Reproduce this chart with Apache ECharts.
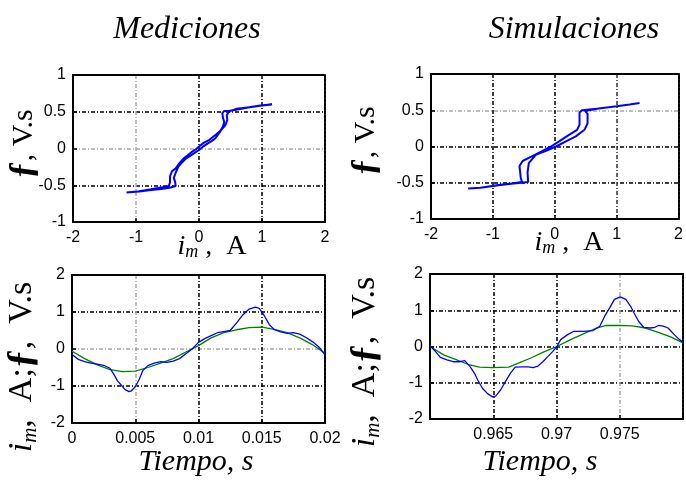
<!DOCTYPE html>
<html>
<head>
<meta charset="utf-8">
<script src="https://cdn.jsdelivr.net/npm/echarts@6/dist/echarts.min.js"></script>
<style>
  html, body { margin: 0; padding: 0; background: #fff; }
  #chart { width: 686px; height: 481px; }
</style>
</head>
<body>
<div id="chart"></div>
<script>
// Hysteresis loop, measured: magnetizing current (A) vs flux (V.s)
const medLoopI = [1.16, 1.0, 0.82, 0.61, 0.47, 0.40, 0.37, 0.38, 0.40, 0.38, 0.34, 0.27, 0.21, 0.15, 0.08, 0.02, -0.05, -0.12, -0.19, -0.25, -0.31, -0.37, -0.43, -0.46, -0.46, -0.48, -0.60, -0.76, -0.95, -1.15,
  -0.95, -0.76, -0.60, -0.45, -0.37, -0.38, -0.40, -0.37, -0.33, -0.27, -0.21, -0.14, -0.07, 0.0, 0.07, 0.14, 0.20, 0.26, 0.31, 0.36, 0.42, 0.45, 0.44, 0.47, 0.60, 0.80, 1.0, 1.16];
const medLoopF = [0.60, 0.59, 0.565, 0.53, 0.51, 0.51, 0.48, 0.42, 0.36, 0.30, 0.24, 0.19, 0.15, 0.11, 0.08, 0.04, -0.01, -0.05, -0.10, -0.14, -0.20, -0.27, -0.31, -0.38, -0.46, -0.51, -0.53, -0.555, -0.58, -0.60,
  -0.585, -0.565, -0.55, -0.53, -0.51, -0.45, -0.40, -0.33, -0.25, -0.19, -0.14, -0.10, -0.06, -0.02, 0.03, 0.07, 0.10, 0.14, 0.20, 0.26, 0.32, 0.39, 0.45, 0.50, 0.54, 0.56, 0.585, 0.60];

// Hysteresis loop, simulated
const simLoopI = [1.37, 1.21, 1.0, 0.68, 0.44, 0.40, 0.40, 0.36, 0.23, 0.07, -0.06, -0.22, -0.38, -0.52, -0.57, -0.56, -0.55, -0.53, -0.70, -0.91, -1.2, -1.40,
  -1.2, -0.91, -0.70, -0.43, -0.44, -0.42, -0.30, -0.14, 0.02, 0.18, 0.34, 0.48, 0.53, 0.53, 0.49, 0.68, 1.0, 1.21, 1.37];
const simLoopF = [0.60, 0.58, 0.555, 0.52, 0.50, 0.47, 0.30, 0.23, 0.16, 0.07, 0.0, -0.07, -0.14, -0.20, -0.27, -0.35, -0.43, -0.49, -0.51, -0.53, -0.57, -0.58,
  -0.57, -0.535, -0.515, -0.49, -0.36, -0.23, -0.11, -0.06, 0.0, 0.07, 0.14, 0.23, 0.32, 0.45, 0.49, 0.52, 0.555, 0.58, 0.60];

// Measured waveforms over one period (s)
const medCurT = [0, 0.0005, 0.001, 0.0015, 0.002, 0.0025, 0.003, 0.0033, 0.0036, 0.0039, 0.0042, 0.0045, 0.0047, 0.005, 0.0053, 0.0056, 0.006, 0.0065, 0.007, 0.0075, 0.008, 0.0085, 0.009, 0.0095, 0.01, 0.0105, 0.011, 0.0115, 0.012, 0.0125, 0.013, 0.0135, 0.014, 0.0145, 0.0148, 0.0152, 0.0156, 0.016, 0.0165, 0.017, 0.0175, 0.018, 0.0185, 0.019, 0.0195, 0.02];
const medCurV = [-0.15, -0.28, -0.34, -0.38, -0.41, -0.44, -0.52, -0.68, -0.86, -0.98, -1.10, -1.15, -1.13, -1.02, -0.83, -0.58, -0.45, -0.38, -0.34, -0.36, -0.33, -0.26, -0.13, 0.0, 0.18, 0.28, 0.36, 0.44, 0.47, 0.50, 0.70, 0.92, 1.08, 1.13, 1.10, 0.90, 0.66, 0.52, 0.46, 0.42, 0.44, 0.40, 0.31, 0.20, 0.06, -0.15];
const medFluxT = [0, 0.001, 0.002, 0.003, 0.004, 0.005, 0.006, 0.007, 0.008, 0.009, 0.010, 0.011, 0.012, 0.013, 0.014, 0.015, 0.016, 0.017, 0.018, 0.019, 0.0196, 0.02];
const medFluxV = [-0.06, -0.26, -0.43, -0.56, -0.61, -0.60, -0.50, -0.38, -0.26, -0.08, 0.09, 0.30, 0.44, 0.52, 0.58, 0.59, 0.53, 0.44, 0.30, 0.12, -0.02, -0.12];

// Simulated waveforms (s)
const simCurT = [0.96, 0.96044, 0.96082, 0.96134, 0.96185, 0.96237, 0.96275, 0.96314, 0.96352, 0.96378, 0.96416, 0.96455, 0.96494, 0.96519, 0.96558, 0.96596, 0.96635, 0.96674, 0.96725, 0.96776, 0.96815, 0.96853, 0.96892, 0.96931, 0.96969, 0.97003, 0.97033, 0.97085, 0.97136, 0.97213, 0.9729, 0.97342, 0.9738, 0.97419, 0.97458, 0.97504, 0.97548, 0.97586, 0.97612, 0.9765, 0.97689, 0.9774, 0.97779, 0.97805, 0.97843, 0.97882, 0.97933, 0.97972, 0.98];
const simCurV = [0.02, -0.14, -0.30, -0.37, -0.42, -0.42, -0.39, -0.54, -0.74, -0.93, -1.16, -1.30, -1.39, -1.37, -1.20, -0.97, -0.74, -0.57, -0.56, -0.56, -0.58, -0.54, -0.42, -0.28, -0.14, 0.0, 0.19, 0.32, 0.42, 0.42, 0.44, 0.56, 0.83, 1.06, 1.30, 1.37, 1.30, 1.11, 0.93, 0.69, 0.53, 0.51, 0.53, 0.58, 0.56, 0.51, 0.32, 0.19, 0.12];
const simFluxT = [0.96, 0.96108, 0.96211, 0.96314, 0.96391, 0.96494, 0.96622, 0.96699, 0.96802, 0.96905, 0.97003, 0.97111, 0.97213, 0.97316, 0.97393, 0.97504, 0.97599, 0.97702, 0.97805, 0.97907, 0.98];
const simFluxV = [0.0, -0.23, -0.37, -0.51, -0.57, -0.58, -0.57, -0.46, -0.31, -0.14, 0.0, 0.19, 0.35, 0.51, 0.58, 0.58, 0.57, 0.51, 0.39, 0.26, 0.10];

// Axis ranges and ticks
const loopXTicks = { min: -2, max: 2, interval: 1 };
const loopYTicks = { min: -1, max: 1, interval: 0.5 };
const medTimeTicks = { min: 0, max: 0.02, interval: 0.005 };
const simTimeTicks = { min: 0.96, max: 0.98, interval: 0.005 };
const waveYTicks = { min: -2, max: 2, interval: 1 };

const BLUE = '#0000ff';
const GREEN = '#008000';
const DARK = '#000000';
const LIGHT = '#a8a8a8';
const GRID_DASH = [4, 2, 1, 2];
const TICK_FONT = 'Liberation Sans, Arial, sans-serif';
const SERIF = 'Liberation Serif, Times New Roman, serif';

const zip = (a, b) => a.map((v, i) => [v, b[i]]);

function labelStyle(extra) {
  return Object.assign({
    show: true, color: '#000', fontFamily: TICK_FONT, fontSize: 16,
    showMinLabel: true, showMaxLabel: true
  }, extra || {});
}

function mainAxis(range, gridIndex, splitColors, extra) {
  return Object.assign({
    type: 'value',
    gridIndex: gridIndex,
    min: range.min, max: range.max, interval: range.interval,
    axisLine: { show: true, onZero: false, lineStyle: { color: '#000', width: 2 } },
    axisTick: { show: true, inside: true, length: 4, lineStyle: { color: '#000', width: 1.5 } },
    axisLabel: labelStyle({ margin: 7 }),
    splitLine: {
      show: true, showMinLine: false, showMaxLine: false,
      lineStyle: { color: splitColors, width: 1.5, type: GRID_DASH }
    }
  }, extra || {});
}

function borderAxis(range, gridIndex, position) {
  return {
    type: 'value', gridIndex: gridIndex, position: position,
    min: range.min, max: range.max, interval: range.interval,
    axisLine: { show: true, onZero: false, lineStyle: { color: '#000', width: 2, type: [3, 1] } },
    axisTick: { show: false }, axisLabel: { show: false }, splitLine: { show: false }
  };
}

const simTimeLabel = function (v) {
  if (Math.abs(v - simTimeTicks.min) < 1e-9 || Math.abs(v - simTimeTicks.max) < 1e-9) return '';
  return String(+v.toFixed(3));
};
const medTimeLabel = function (v) { return String(+v.toFixed(3)); };

const grids = [
  { left: 73, top: 75, width: 252, height: 147 },
  { left: 431, top: 74, width: 252, height: 145 },
  { left: 72, top: 275, width: 253, height: 148 },
  { left: 430, top: 274, width: 258, height: 145 }
];

const xAxes = [
  mainAxis(loopXTicks, 0, [LIGHT, DARK, DARK], { position: 'bottom', axisLabel: labelStyle({ margin: 8 }) }),
  mainAxis(loopXTicks, 1, [DARK, DARK, '#333'], { position: 'bottom', axisLabel: labelStyle({ margin: 8 }) }),
  mainAxis(medTimeTicks, 2, [LIGHT, DARK, DARK], { position: 'bottom', axisLabel: labelStyle({ margin: 8, formatter: medTimeLabel }) }),
  mainAxis(simTimeTicks, 3, [DARK, DARK, LIGHT], { position: 'bottom', axisLabel: labelStyle({ margin: 8, formatter: simTimeLabel }) }),
  borderAxis(loopXTicks, 0, 'top'),
  borderAxis(loopXTicks, 1, 'top'),
  borderAxis(medTimeTicks, 2, 'top'),
  borderAxis(simTimeTicks, 3, 'top')
];

const yAxes = [
  mainAxis(loopYTicks, 0, [DARK, LIGHT, DARK], { position: 'left' }),
  mainAxis(loopYTicks, 1, [DARK, DARK, LIGHT], { position: 'left' }),
  mainAxis(waveYTicks, 2, [DARK, LIGHT, DARK], { position: 'left' }),
  mainAxis(waveYTicks, 3, [DARK, DARK, DARK], { position: 'left' }),
  borderAxis(loopYTicks, 0, 'right'),
  borderAxis(loopYTicks, 1, 'right'),
  borderAxis(waveYTicks, 2, 'right'),
  borderAxis(waveYTicks, 3, 'right')
];

function line(data, idx, color, width) {
  return {
    type: 'line', xAxisIndex: idx, yAxisIndex: idx, data: data,
    showSymbol: false, symbol: 'none', clip: true, smooth: false,
    lineStyle: { color: color, width: width }, z: 3
  };
}

const series = [
  line(zip(medLoopI, medLoopF), 0, BLUE, 2),
  line(zip(simLoopI, simLoopF), 1, BLUE, 2),
  line(zip(medFluxT, medFluxV), 2, GREEN, 1.3),
  line(zip(medCurT, medCurV), 2, BLUE, 1.3),
  line(zip(simFluxT, simFluxV), 3, GREEN, 1.3),
  line(zip(simCurT, simCurV), 3, BLUE, 1.3)
];

// Rich-text styles for the axis titles
const fluxRich = {
  f: { fontFamily: SERIF, fontSize: 35, fontWeight: 'bold', color: '#000' },
  n: { fontFamily: SERIF, fontSize: 30, color: '#000' }
};
const waveRich = {
  f: { fontFamily: SERIF, fontSize: 38, fontWeight: 'bold', color: '#000' },
  n: { fontFamily: SERIF, fontSize: 34, color: '#000' },
  i: { fontFamily: SERIF, fontSize: 34, fontStyle: 'italic', color: '#000' },
  s: { fontFamily: SERIF, fontSize: 21, fontStyle: 'italic', color: '#000', verticalAlign: 'bottom', lineHeight: 18 }
};
const xRich = {
  n: { fontFamily: SERIF, fontSize: 28, color: '#000' },
  i: { fontFamily: SERIF, fontSize: 28, fontStyle: 'italic', color: '#000' },
  s: { fontFamily: SERIF, fontSize: 18, fontStyle: 'italic', color: '#000', verticalAlign: 'bottom', lineHeight: 14 }
};

function txt(x, y, text, opts) {
  return Object.assign({
    type: 'text', x: x, y: y, z: 10,
    style: Object.assign({ text: text, align: 'center', verticalAlign: 'middle', fill: '#000' }, opts.style || {})
  }, opts.el || {});
}

const graphics = [
  txt(187, 30, 'Mediciones', { style: { font: 'italic 32px ' + SERIF } }),
  txt(574, 30, 'Simulaciones', { style: { font: 'italic 32px ' + SERIF } }),
  txt(196, 462, 'Tiempo, s', { style: { font: 'italic 30px ' + SERIF } }),
  txt(540, 462, 'Tiempo, s', { style: { font: 'italic 30px ' + SERIF } }),
  txt(212, 247, '{i|i}{s|m}{n| ,  A}', { style: { rich: xRich } }),
  txt(569, 243, '{i|i}{s|m}{n| ,  A}', { style: { rich: xRich } }),
  txt(24, 144, '{f|ƒ}{n|, V.s}', { style: { rich: fluxRich }, el: { rotation: Math.PI / 2 } }),
  txt(366, 141, '{f|ƒ}{n|, V.s}', { style: { rich: fluxRich }, el: { rotation: Math.PI / 2 } }),
  txt(22, 367, '{i|i}{s|m}{n|,  A;}{f|ƒ}{n|,  V.s}', { style: { rich: waveRich }, el: { rotation: Math.PI / 2 } }),
  txt(365, 362, '{i|i}{s|m}{n|,  A;}{f|ƒ}{n|,  V.s}', { style: { rich: waveRich }, el: { rotation: Math.PI / 2 } })
];

const chart = echarts.init(document.getElementById('chart'), null, { renderer: 'canvas' });
chart.setOption({
  animation: false,
  backgroundColor: '#fff',
  grid: grids,
  xAxis: xAxes,
  yAxis: yAxes,
  series: series,
  graphic: graphics
});
</script>
</body>
</html>
